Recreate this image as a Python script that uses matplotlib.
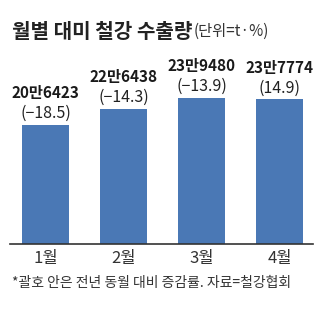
import matplotlib
matplotlib.use("Agg")
import matplotlib.pyplot as plt

# 데이터
months = ["1월", "2월", "3월", "4월"]
values = [206423, 226438, 239480, 237774]
value_labels = ["20만6423", "22만6438", "23만9480", "23만7774"]
pct_labels = ["(−18.5)", "(−14.3)", "(−13.9)", "(14.9)"]

plt.rcParams['font.family'] = ['Noto Sans CJK KR', 'DejaVu Sans']

W, H = 323, 332
fig = plt.figure(figsize=(W / 100, H / 100), dpi=100)
ax = fig.add_axes([10 / W, (H - 244) / H, 303 / W, 184 / H])

x = range(len(months))
ax.bar(x, values, width=0.6, color="#4a78b5")
ax.set_xlim(-0.455, 3.43)
ax.set_ylim(60800, 60800 + 225000)

for i, v in enumerate(values):
    ax.annotate(pct_labels[i], (i, v), xytext=(0, 2), textcoords="offset points",
                ha="center", va="bottom", fontsize=11.5, color="#222222")
    ax.annotate(value_labels[i], (i, v), xytext=(0, 17), textcoords="offset points",
                ha="center", va="bottom", fontsize=11, fontweight="bold", color="#1a1a1a")

for s in ["top", "right", "left"]:
    ax.spines[s].set_visible(False)
ax.spines["bottom"].set_color("#333333")
ax.spines["bottom"].set_linewidth(1.2)
ax.set_yticks([])
ax.set_xticks(list(x))
ax.set_xticklabels(months, fontsize=12, color="#333333")
ax.tick_params(axis="x", length=0, pad=4)

fig.text(12 / W, 1 - 31 / H, "월별 대미 철강 수출량", fontsize=14.5, fontweight="bold",
         color="#222222", va="center", ha="left")
fig.text(194 / W, 1 - 31 / H, "(단위=t·%)", fontsize=11, color="#333333",
         va="center", ha="left")
fig.text(12 / W, 1 - 283 / H, "*괄호 안은 전년 동월 대비 증감률. 자료=철강협회", fontsize=10,
         color="#333333", va="center", ha="left")

fig.savefig("out.png", dpi=100)
